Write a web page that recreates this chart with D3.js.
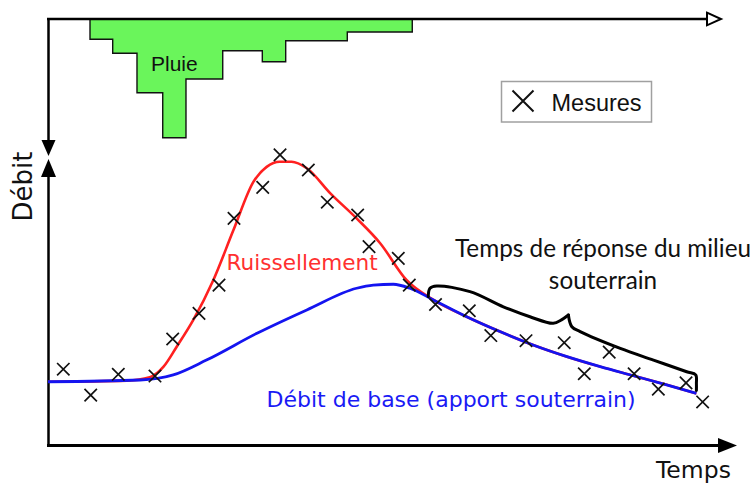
<!DOCTYPE html>
<html>
<head>
<meta charset="utf-8">
<script src="https://cdn.jsdelivr.net/npm/d3@7"></script>
<style>
  html, body { margin: 0; padding: 0; background: #fff; }
  svg { display: block; }
</style>
</head>
<body>
<svg id="chart" width="756" height="483"></svg>
<script>
// Rain hyetograph: step edges (time) and intensity of each step
const rainEdges = [6.07, 9.35, 12.86, 16.58, 19.94, 25.25, 30.97, 34.35, 43.25, 52.64];
const rainDepth = [1.69, 2.86, 6.14, 9.89, 5.0, 2.64, 3.56, 1.81, 1.08];

// Measured discharge
const measureT = [2.21, 6.17, 10.16, 15.46, 18.02, 21.82, 24.71, 26.88, 31.03, 33.53, 37.62, 40.36, 44.75, 46.39,
                  50.62, 52.21, 56.0, 60.88, 63.99, 69.08, 74.6, 77.5, 81.1, 84.7, 88.2, 92.2, 94.6];
const measureQ = [26.6, 17.5, 24.8, 24.2, 37.2, 46.2, 56.1, 79.5, 90.4, 101.8, 96.5, 85.2, 80.7, 69.6,
                  65.5, 56.1, 49.3, 47.1, 38.4, 36.6, 35.9, 25.0, 32.6, 25.0, 19.6, 21.8, 15.1];

// Total hydrograph (runoff + base flow)
const totalT = [0, 11.4, 14.7, 16.7, 18.6, 21.0, 23.9, 26.8, 29.7, 31.6, 33.5, 35.2, 37.4, 40.8, 44.6, 48.0, 51.8, 55.7,
                60.5, 65.3, 70.1, 75.0, 79.8, 84.6, 89.4, 93.7];
const totalQ = [22.2, 22.6, 23.8, 27.5, 34.5, 43.9, 57.9, 75.4, 92.4, 97.6, 99.4, 99.4, 97.1, 88.3, 79.5, 70.8, 57.9, 50.9,
                45.0, 39.8, 35.1, 31.0, 27.5, 24.3, 21.1, 18.1];

// Base flow (groundwater contribution)
const baseT = [0, 13.3, 18.1, 22.9, 30.2, 37.4, 44.6, 47.0, 49.9, 52.3, 55.7, 60.5, 65.3, 70.1, 75.0, 79.8, 84.6, 89.4, 93.7];
const baseQ = [22.2, 22.8, 24.6, 29.8, 39.2, 47.4, 55.0, 56.1, 56.4, 55.0, 50.9, 45.0, 39.8, 35.1, 31.0, 27.5, 24.3, 21.1, 18.1];

// Brace over the recession limb (two halves meeting at the tip)
const braceLeftT = [54.95, 55.2, 56.17, 60.98, 65.8, 69.65, 73.0, 74.2, 75.2];
const braceLeftQ = [52.0, 55.0, 55.8, 53.8, 48.5, 45.0, 42.7, 43.9, 45.6];
const braceRightT = [75.2, 75.7, 76.9, 82.7, 87.5, 92.3, 93.6, 93.7, 93.7];
const braceRightQ = [45.6, 41.5, 39.8, 33.9, 29.8, 25.7, 24.6, 21.6, 19.1];

const svg = d3.select("#chart");

const x = d3.scaleLinear().domain([0, 100]).range([48, 740]);
const y = d3.scaleLinear().domain([0, 100]).range([445, 160]);
const yRain = d3.scaleLinear().domain([0, 10]).range([19, 139]);

// ---- Hyetograph ----
const rainPts = [[rainEdges[0], 0]];
rainDepth.forEach((d, i) => {
  rainPts.push([rainEdges[i], d]);
  rainPts.push([rainEdges[i + 1], d]);
});
rainPts.push([rainEdges[rainEdges.length - 1], 0]);
svg.append("path")
  .attr("d", d3.line().x(d => x(d[0])).y(d => yRain(d[1]))(rainPts) + "Z")
  .attr("fill", "#6af55b")
  .attr("stroke", "#111")
  .attr("stroke-width", 1.4);

svg.append("text")
  .attr("x", 151).attr("y", 71)
  .attr("font-family", "'Liberation Sans', Arial, sans-serif")
  .attr("font-size", 21)
  .attr("fill", "#111")
  .text("Pluie");

// ---- Axes ----
const axisG = svg.append("g").attr("stroke", "#000").attr("fill", "none");
// top time axis (rain)
axisG.append("line").attr("x1", 47).attr("x2", 707).attr("y1", 19).attr("y2", 19).attr("stroke-width", 2.5);
axisG.append("path").attr("d", "M707,12.7L721,19L707,25.3Z").attr("fill", "#fff").attr("stroke-width", 2);
// rain axis pointing down
axisG.append("line").attr("x1", 48.5).attr("x2", 48.5).attr("y1", 18).attr("y2", 142).attr("stroke-width", 2.5);
axisG.append("path").attr("d", "M41.5,140L55.5,140L48.5,156Z").attr("fill", "#000").attr("stroke", "none");
// discharge axis pointing up
axisG.append("line").attr("x1", 48.5).attr("x2", 48.5).attr("y1", 447).attr("y2", 175).attr("stroke-width", 2.5);
axisG.append("path").attr("d", "M41,177L56,177L48.5,159Z").attr("fill", "#000").attr("stroke", "none");
// time axis
axisG.append("line").attr("x1", 47).attr("x2", 720).attr("y1", 445.5).attr("y2", 445.5).attr("stroke-width", 3);
axisG.append("path").attr("d", "M718,438L737,445.5L718,453Z").attr("fill", "#000").attr("stroke", "none");

svg.append("text")
  .attr("transform", "translate(31.5,221.5) rotate(-90)")
  .attr("font-family", "'DejaVu Sans', Verdana, sans-serif")
  .attr("font-size", 26)
  .attr("fill", "#111")
  .text("Débit");

svg.append("text")
  .attr("x", 656).attr("y", 478)
  .attr("font-family", "'DejaVu Sans', Verdana, sans-serif")
  .attr("font-size", 23.5)
  .attr("fill", "#111")
  .text("Temps");

// ---- Hydrograph lines ----
const lineGen = d3.line().x(d => x(d[0])).y(d => y(d[1])).curve(d3.curveMonotoneX);
svg.append("path")
  .attr("d", lineGen(totalT.map((t, i) => [t, totalQ[i]])))
  .attr("fill", "none").attr("stroke", "#ff2020").attr("stroke-width", 2.6);
svg.append("path")
  .attr("d", lineGen(baseT.map((t, i) => [t, baseQ[i]])))
  .attr("fill", "none").attr("stroke", "#1414f0").attr("stroke-width", 2.8);

// ---- Brace ----
const braceGen = d3.line().x(d => x(d[0])).y(d => y(d[1])).curve(d3.curveCatmullRom.alpha(0.5));
[[braceLeftT, braceLeftQ], [braceRightT, braceRightQ]].forEach(([bt, bq]) => {
  svg.append("path")
    .attr("d", braceGen(bt.map((t, i) => [t, bq[i]])))
    .attr("fill", "none").attr("stroke", "#000").attr("stroke-width", 3)
    .attr("stroke-linejoin", "round").attr("stroke-linecap", "round");
});

// ---- Measurements ----
const cross = (g, cx, cy, r, w) => {
  g.append("path")
    .attr("d", `M${cx - r},${cy - r}L${cx + r},${cy + r}M${cx - r},${cy + r}L${cx + r},${cy - r}`)
    .attr("stroke", "#111").attr("stroke-width", w).attr("fill", "none");
};
const mG = svg.append("g");
measureT.forEach((t, i) => cross(mG, x(t), y(measureQ[i]), 6.2, 1.7));

// ---- Labels ----
svg.append("text")
  .attr("x", 226.5).attr("y", 269.5)
  .attr("font-family", "'DejaVu Sans', Verdana, sans-serif")
  .attr("font-size", 21.6)
  .attr("fill", "#ff3030")
  .text("Ruissellement");

svg.append("text")
  .attr("x", 266.5).attr("y", 406.5)
  .attr("font-family", "'DejaVu Sans', Verdana, sans-serif")
  .attr("font-size", 22)
  .attr("fill", "#1a1af5")
  .text("Débit de base (apport souterrain)");

const ann = svg.append("text")
  .attr("font-family", "Lato, 'Open Sans', sans-serif")
  .attr("font-size", 24.3)
  .attr("fill", "#111")
  .attr("text-anchor", "middle");
ann.append("tspan").attr("x", 603).attr("y", 257).text("Temps de réponse du milieu");
ann.append("tspan").attr("x", 603).attr("y", 289).text("souterrain");

// ---- Legend ----
const leg = svg.append("g");
leg.append("rect")
  .attr("x", 501.5).attr("y", 81.5).attr("width", 150).attr("height", 40.5)
  .attr("fill", "#fff").attr("stroke", "#a0a0a0").attr("stroke-width", 1.5);
cross(leg, 523, 101, 10.5, 2);
leg.append("text")
  .attr("x", 551.5).attr("y", 110.5)
  .attr("font-family", "'Liberation Sans', Arial, sans-serif")
  .attr("font-size", 23.5)
  .attr("fill", "#111")
  .text("Mesures");
</script>
</body>
</html>
